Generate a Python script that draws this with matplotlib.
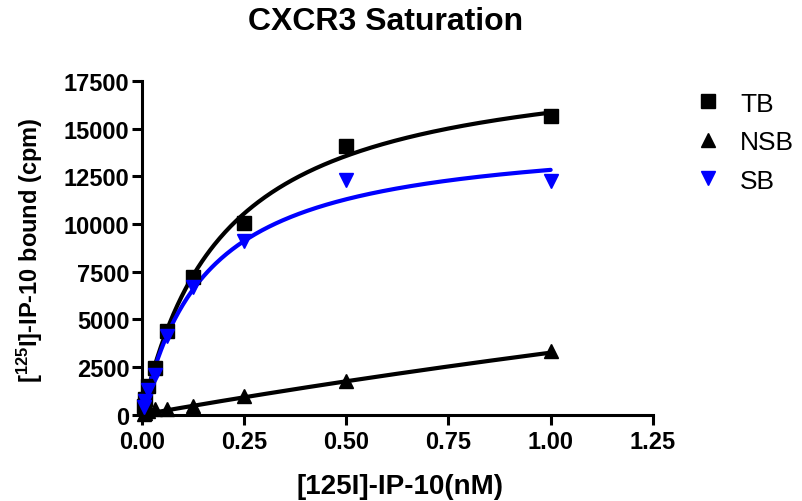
import matplotlib
matplotlib.use("Agg")
import matplotlib.pyplot as plt
import numpy as np

plt.rcParams['font.family'] = ['Liberation Sans', 'DejaVu Sans']
plt.rcParams['mathtext.fontset'] = 'custom'
plt.rcParams['mathtext.rm'] = 'Liberation Sans:bold'
plt.rcParams['mathtext.it'] = 'Liberation Sans:bold'
plt.rcParams['mathtext.bf'] = 'Liberation Sans:bold'
plt.rcParams['mathtext.default'] = 'rm'

# ligand concentration (nM)
conc = [0.0039, 0.0078, 0.0156, 0.03125, 0.0625, 0.125, 0.25, 0.5, 1.0]
# bound counts (cpm)
tb = [450, 800, 1500, 2450, 4400, 7200, 10050, 14100, 15650]
nsb = [50, 100, 180, 280, 300, 450, 970, 1760, 3340]
sb = [400, 700, 1300, 2100, 4100, 6700, 9100, 12300, 12250]

# one-site fit parameters (Bmax, Kd)
tb_fit = (19020, 0.201)
sb_fit = (14860, 0.158)
nsb_fit = (22750, 6.0)

xticks = [0.00, 0.25, 0.50, 0.75, 1.00, 1.25]
yticks = [0, 2500, 5000, 7500, 10000, 12500, 15000, 17500]

def one_site(x, p):
    return p[0] * x / (p[1] + x)

fig = plt.figure(figsize=(8.02, 5.02), dpi=100)
ax = fig.add_axes([0.177, 0.172, 0.637, 0.665])

xf = np.linspace(0, 1.0, 300)
ax.plot(xf, one_site(xf, tb_fit), color='black', lw=3, solid_capstyle='round', zorder=2)
ax.plot(xf, one_site(xf, nsb_fit), color='black', lw=3, solid_capstyle='round', zorder=2)
ax.plot(xf, one_site(xf, sb_fit), color='#0000ff', lw=3, solid_capstyle='round', zorder=3)

ax.plot(conc, tb, 's', color='black', ms=10, ls='none', label='TB', clip_on=False, zorder=4)
ax.plot(conc, nsb, '^', color='black', ms=10, ls='none', label='NSB', clip_on=False, zorder=4)
ax.plot(conc, sb, 'v', color='#0000ff', ms=10, ls='none', label='SB', clip_on=False, zorder=5)

ax.set_xlim(0, 1.25)
ax.set_ylim(0, 17500)
ax.set_xticks(xticks)
ax.set_yticks(yticks)
ax.set_xticklabels(['%.2f' % v for v in xticks])
ax.set_yticklabels([str(v) for v in yticks])

for s in ['top', 'right']:
    ax.spines[s].set_visible(False)
for s in ['left', 'bottom']:
    ax.spines[s].set_linewidth(2.2)
ax.tick_params(width=2.2, length=7, labelsize=17, pad=2)
ax.tick_params(axis='x', pad=4)
for lab in ax.get_xticklabels() + ax.get_yticklabels():
    lab.set_fontweight('bold')

fig.text(386 / 802, 1 - 22 / 502, 'CXCR3 Saturation', fontsize=23, fontweight='bold',
         ha='center', va='center')
fig.text(400 / 802, 1 - 487 / 502, '[125I]-IP-10(nM)', fontsize=20, fontweight='bold',
         ha='center', va='center')
fig.text(30 / 802, 1 - 250 / 502, '[$^{125}$I]-IP-10 bound (cpm)', fontsize=17,
         fontweight='bold', ha='center', va='center', rotation=90)

ax.legend(loc='upper left', bbox_to_anchor=(682 / 802, 1 - 82 / 502), bbox_transform=fig.transFigure,
          frameon=False, fontsize=19, handletextpad=0.6, labelspacing=0.55,
          handlelength=1.2, borderaxespad=0)

fig.savefig('out.png', dpi=100)
